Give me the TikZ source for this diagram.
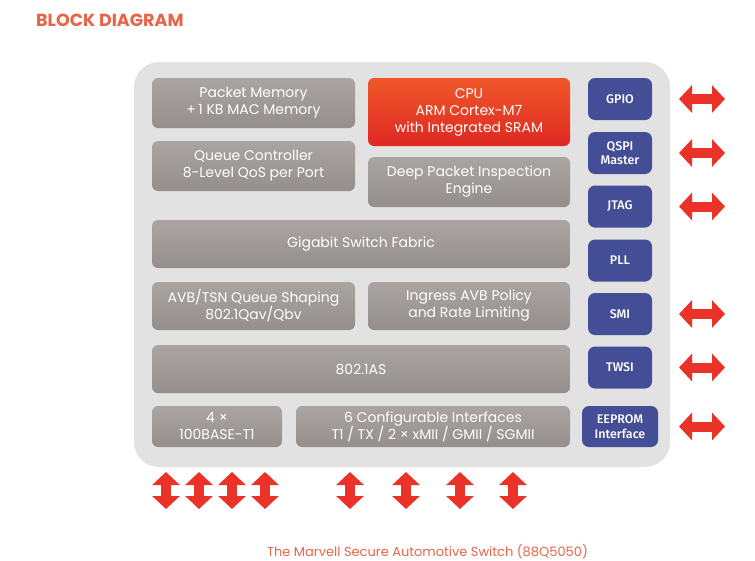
\documentclass[tikz,border=0pt]{standalone}
\usepackage{fontspec}
\setmainfont{Poppins}
\newfontfamily\pinfont{Fira Sans}[UprightFont={* Medium}]
\usepackage{xcolor}
\usetikzlibrary{positioning, arrows.meta, calc}

\definecolor{headred}{RGB}{232,100,70}
\definecolor{chipgray}{RGB}{226,226,226}
\definecolor{blocktop}{RGB}{170,165,162}
\definecolor{blockbot}{RGB}{148,143,140}
\definecolor{cputop}{RGB}{240,88,42}
\definecolor{cpubot}{RGB}{222,40,34}
\definecolor{pinblue}{RGB}{68,78,150}
\definecolor{arrowred}{RGB}{234,50,40}

\begin{document}
\begin{tikzpicture}[
        x=1pt, y=-1pt,
        chip/.style={
            rectangle,
            fill=chipgray,
            rounded corners=25pt,
            inner sep=0pt
        },
        block/.style={
            rectangle,
            rounded corners=6pt,
            top color=blocktop,
            bottom color=blockbot,
            text=white,
            inner sep=0pt,
            align=center,
            font=\fontsize{14}{17}\selectfont
        },
        cpubox/.style={
            block,
            top color=cputop,
            bottom color=cpubot
        },
        pin/.style={
            rectangle,
            rounded corners=7pt,
            fill=pinblue,
            text=white,
            inner sep=0pt,
            minimum width=64pt,
            minimum height=42pt,
            align=center,
            font=\pinfont\fontsize{12.5}{14.5}\selectfont
        },
        link/.style={
            draw=arrowred,
            line width=10pt,
            {Triangle[width=27pt,length=13pt]}-{Triangle[width=27pt,length=13pt]}
        }
    ]
        \useasboundingbox (0,0) rectangle (755,560);

        % Heading and caption
        \node[anchor=base west, inner sep=0pt, text=headred, font=\bfseries\fontsize{17.5}{20}\selectfont] (title) at (36,26) {BLOCK DIAGRAM};
        \node[anchor=base, inner sep=0pt, text=headred, font=\fontsize{13}{15}\selectfont] (caption) at (427.5,556) {The Marvell Secure Automotive Switch (88Q5050)};

        % Chip outline
        \node[chip, minimum width=536pt, minimum height=405pt] (chip) at (402,264.5) {};

        % Core blocks
        \node[block, minimum width=203pt, minimum height=50pt] (pktmem) at (253.5,103) {Packet Memory\\+\,1 KB MAC Memory};
        \node[cpubox, minimum width=202pt, minimum height=68pt] (cpu) at (469,112) {CPU\\ARM Cortex-M7\\with Integrated SRAM};
        \node[block, minimum width=203pt, minimum height=50pt] (queue) at (253.5,166) {Queue Controller\\8-Level QoS per Port};
        \node[block, minimum width=202pt, minimum height=50pt] (dpi) at (469,182) {Deep Packet Inspection\\Engine};
        \node[block, minimum width=418pt, minimum height=48pt] (fabric) at (361,244) {Gigabit Switch Fabric};
        \node[block, minimum width=203pt, minimum height=48pt] (shaping) at (253.5,306) {AVB/TSN Queue Shaping\\802.1Qav/Qbv};
        \node[block, minimum width=202pt, minimum height=48pt] (policy) at (469,306) {Ingress AVB Policy\\and Rate Limiting};
        \node[block, minimum width=418pt, minimum height=48pt] (gptp) at (361,369) {802.1AS};
        \node[block, minimum width=130pt, minimum height=41pt] (phys) at (217,426.5) {4 ×\\100BASE-T1};
        \node[block, minimum width=274pt, minimum height=41pt] (ports) at (433,426.5) {6 Configurable Interfaces\\T1 / TX / 2 × xMII / GMII / SGMII};

        % Peripheral pins
        \node[pin] (gpio) at (620,99) {GPIO};
        \node[pin] (qspi) at (620,153) {QSPI\\Master};
        \node[pin] (jtag) at (620,206.5) {JTAG};
        \node[pin] (pll) at (620,260.5) {PLL};
        \node[pin] (smi) at (620,314) {SMI};
        \node[pin] (twsi) at (620,367.5) {TWSI};
        \node[pin, minimum width=76pt, minimum height=41pt] (eeprom) at (620,426.5) {EEPROM\\Interface};

        % Side links
        \foreach \n in {gpio, qspi, jtag, smi, twsi, eeprom}
            \draw[link] ([xshift=59pt]\n.center) -- ([xshift=105pt]\n.center);

        % Port links
        \foreach \x [count=\i] in {166, 199, 232, 265, 350, 406, 460, 513} {
            \coordinate (porttop\i) at (\x,472);
            \coordinate (portbot\i) at (\x,509);
            \draw[link] (porttop\i) -- (portbot\i);
        }

    \end{tikzpicture}
\end{document}
